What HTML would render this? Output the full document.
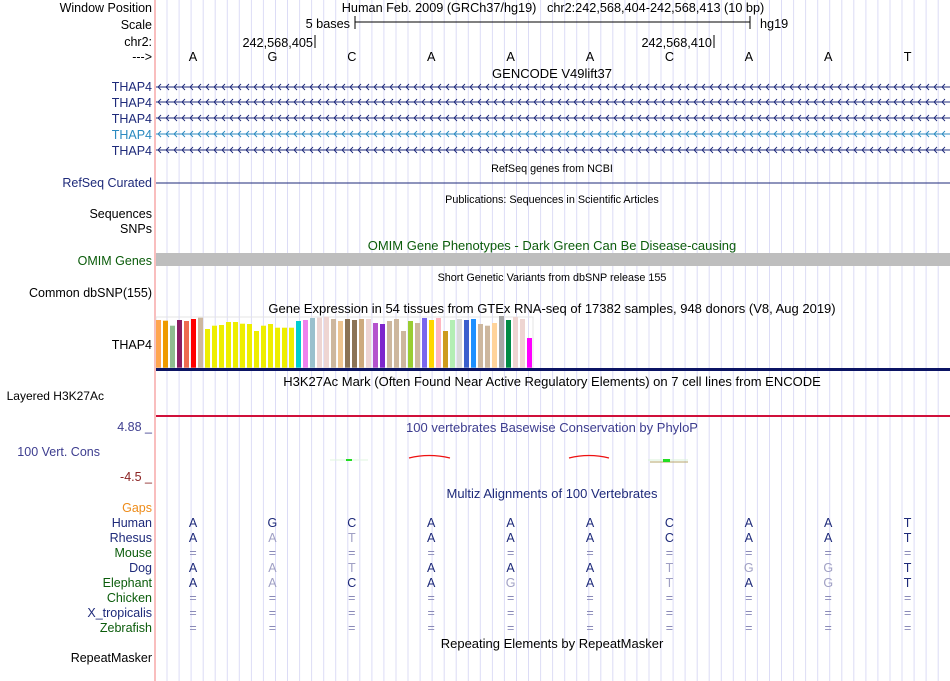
<!DOCTYPE html>
<html><head><meta charset="utf-8"><style>
body{margin:0;background:#fff;}
#c{position:relative;width:950px;height:681px;overflow:hidden;font-family:"Liberation Sans",sans-serif;}
svg text{font-family:"Liberation Sans",sans-serif;}
</style></head><body>
<div id="c">
<svg id="s" width="950" height="681">
<g id="grid"></g>
<line x1="155" y1="0" x2="155" y2="681" stroke="#f7a8a8" stroke-width="1.5"/>
<g font-size="12.5" fill="#000" text-anchor="end">
<text x="152" y="12">Window Position</text>
<text x="152" y="29">Scale</text>
<text x="152" y="46">chr2:</text>
<text x="152" y="61">---&gt;</text>
<text x="152" y="91" fill="#1e2a7a">THAP4</text>
<text x="152" y="107" fill="#1e2a7a">THAP4</text>
<text x="152" y="123" fill="#1e2a7a">THAP4</text>
<text x="152" y="139" fill="#2b8ac0">THAP4</text>
<text x="152" y="155" fill="#1e2a7a">THAP4</text>
<text x="152" y="187" fill="#1e2a7a">RefSeq Curated</text>
<text x="152" y="218">Sequences</text>
<text x="152" y="233">SNPs</text>
<text x="152" y="265" fill="#0b5c0b">OMIM Genes</text>
<text x="152" y="297">Common dbSNP(155)</text>
<text x="152" y="349">THAP4</text>
<text x="104" y="400" font-size="12">Layered H3K27Ac</text>
<text x="152" y="431" fill="#3d3d8f">4.88 _</text>
<text x="100" y="456" fill="#3d3d8f">100 Vert. Cons</text>
<text x="152" y="481" fill="#8b2323">-4.5 _</text>
<text x="152" y="512" fill="#ee8c1a">Gaps</text>
<text x="152" y="527" fill="#1e2a7a">Human</text>
<text x="152" y="542" fill="#1e2a7a">Rhesus</text>
<text x="152" y="557" fill="#0b5c0b">Mouse</text>
<text x="152" y="572" fill="#1e2a7a">Dog</text>
<text x="152" y="587" fill="#0b5c0b">Elephant</text>
<text x="152" y="602" fill="#0b5c0b">Chicken</text>
<text x="152" y="617" fill="#1e2a7a">X_tropicalis</text>
<text x="152" y="632" fill="#0b5c0b">Zebrafish</text>
<text x="152" y="662">RepeatMasker</text>
</g>
<g font-size="12.7" fill="#000">
<text x="553" y="12" text-anchor="middle">Human Feb. 2009 (GRCh37/hg19)&#160;&#160;&#160;chr2:242,568,404-242,568,413 (10 bp)</text>
<text x="350" y="28" text-anchor="end">5 bases</text>
<line x1="355" y1="22" x2="750" y2="22" stroke="#000"/>
<line x1="355" y1="16" x2="355" y2="29" stroke="#000"/>
<line x1="750" y1="16" x2="750" y2="29" stroke="#000"/>
<text x="760" y="28">hg19</text>
<text x="313" y="47" text-anchor="end">242,568,405</text>
<line x1="315" y1="35" x2="315" y2="48" stroke="#000"/>
<text x="712" y="47" text-anchor="end">242,568,410</text>
<line x1="714" y1="35" x2="714" y2="48" stroke="#000"/>
<g id="bases" text-anchor="middle"></g>
</g>
<g font-size="13" text-anchor="middle">
<text x="552" y="78">GENCODE V49lift37</text>
<text x="552" y="172" font-size="10.8">RefSeq genes from NCBI</text>
<text x="552" y="203" font-size="10.8">Publications: Sequences in Scientific Articles</text>
<text x="552" y="250" fill="#0b5c0b">OMIM Gene Phenotypes - Dark Green Can Be Disease-causing</text>
<text x="552" y="281" font-size="10.8">Short Genetic Variants from dbSNP release 155</text>
<text x="552" y="313">Gene Expression in 54 tissues from GTEx RNA-seq of 17382 samples, 948 donors (V8, Aug 2019)</text>
<text x="552" y="386">H3K27Ac Mark (Often Found Near Active Regulatory Elements) on 7 cell lines from ENCODE</text>
<text x="552" y="432" fill="#3d3d8f">100 vertebrates Basewise Conservation by PhyloP</text>
<text x="552" y="498" fill="#1e2a7a">Multiz Alignments of 100 Vertebrates</text>
<text x="552" y="648">Repeating Elements by RepeatMasker</text>
</g>
<g id="genes"></g>
<line x1="156" y1="183" x2="950" y2="183" stroke="#1e2a7a"/>
<rect x="156" y="253" width="794" height="13" fill="#bebebe"/>
<rect x="156" y="317" width="377" height="51" fill="none" stroke="#e4e4e4"/>
<g id="gtex"></g>
<rect x="156" y="368" width="794" height="3" fill="#0b1464"/>
<rect x="156" y="415" width="794" height="2" fill="#d0103a"/>
<g>
<line x1="330" y1="460" x2="368" y2="460" stroke="#dff5df"/>
<rect x="346" y="459" width="6" height="2" fill="#22dd22"/>
<path d="M409 458 Q429 453 450 458" stroke="#ee1111" stroke-width="1.3" fill="none"/>
<path d="M569 458 Q589 453 609 458" stroke="#ee1111" stroke-width="1.3" fill="none"/>
<line x1="648" y1="460" x2="688" y2="460" stroke="#d8f2d8"/>
<line x1="650" y1="462" x2="688" y2="462" stroke="#b5a66a"/>
<rect x="663" y="459" width="7" height="3" fill="#22dd22"/>
</g>
<g id="aln" font-size="12.5" text-anchor="middle"></g>
</svg>
</div>
<script>
const bases=["A","G","C","A","A","A","C","A","A","T"];
const gtexValues=[143,141,126,143,140,146,150,116,126,128,137,137,132,131,110,126,131,120,120,120,140,143,149,150,153,146,140,146,143,146,146,134,131,140,146,110,140,134,149,143,149,110,143,146,143,146,131,126,134,155,143,152,146,89];
const gtexColors=["#FFA54F","#EE9A00","#8FBC8F","#8B1C62","#EE6A50","#FF0000","#CDB79E","#EEEE00","#EEEE00","#EEEE00","#EEEE00","#EEEE00","#EEEE00","#EEEE00","#EEEE00","#EEEE00","#EEEE00","#EEEE00","#EEEE00","#EEEE00","#00CED1","#EE82EE","#9AC0CD","#EED5D2","#EED5D2","#CDB79E","#EEC591","#8B7355","#8B7355","#CDAA7D","#EED5D2","#B452CD","#7D26CD","#CDB79E","#CDB79E","#CDB79E","#9ACD32","#CDB79E","#7A67EE","#FFD700","#FFB6C1","#CD9B1D","#B4EEB4","#D9D9D9","#3A5FCD","#1E90FF","#CDB79E","#CDB79E","#FFD39B","#A6A6A6","#008B45","#EED5D2","#EED5D2","#FF00FF"];
const species=["Human","Rhesus","Mouse","Dog","Elephant","Chicken","X_tropicalis","Zebrafish"];
const alnRows=["AGCAAACAAT","AATAAACAAT","==========","AATAAATGGT","AACAGATAGT","==========","==========","=========="];
const NS="http://www.w3.org/2000/svg";
const s=document.getElementById('s');
function mk(tag,attrs,parent){const e=document.createElementNS(NS,tag);for(const k in attrs)e.setAttribute(k,attrs[k]);parent.appendChild(e);return e;}
const xBase=i=>193+79.4*i;
const grid=document.getElementById('grid');
for(let x=167;x<950;x+=12.05){const l=mk('line',{x1:x.toFixed(1),y1:0,x2:x.toFixed(1),y2:681,stroke:'#dcdcf6'},grid);

}
const bg=document.getElementById('bases');
bases.forEach((b,i)=>{const t=mk('text',{x:xBase(i),y:61},bg);t.textContent=b;

});
const gg=document.getElementById('genes');
[87,102,118,134,150].forEach((y,k)=>{const col=k==3?'#2b8ac0':'#1e2a7a';
const g=mk('g',{stroke:col,fill:'none'},gg);


mk('line',{x1:156,y1:y,x2:950,y2:y},g);
let d='';for(let x=158;x<948;x+=8){d+=`M${x+3} ${y-3}L${x} ${y}L${x+3} ${y+3}`;}
mk('path',{d:d,'stroke-width':0.9},g);});
const gt=document.getElementById('gtex');
const yScale=v=>v/3;
gtexValues.forEach((v,i)=>{const h=yScale(v);const r=mk('rect',{x:156+7*i,y:(367.7-h).toFixed(1),width:5,height:h.toFixed(1),fill:gtexColors[i]},gt);

});
const al=document.getElementById('aln');
alnRows.forEach((row,r)=>{const y=527+15*r;[...row].forEach((c,i)=>{
let col='#1e2a7a';if(c=='=')col='#8a8ab8';else if(r>0&&c!==bases[i])col='#a0a0c4';
const t=mk('text',{x:xBase(i),y:y,fill:col},al);t.textContent=c;

});});
</script>
</body></html>
